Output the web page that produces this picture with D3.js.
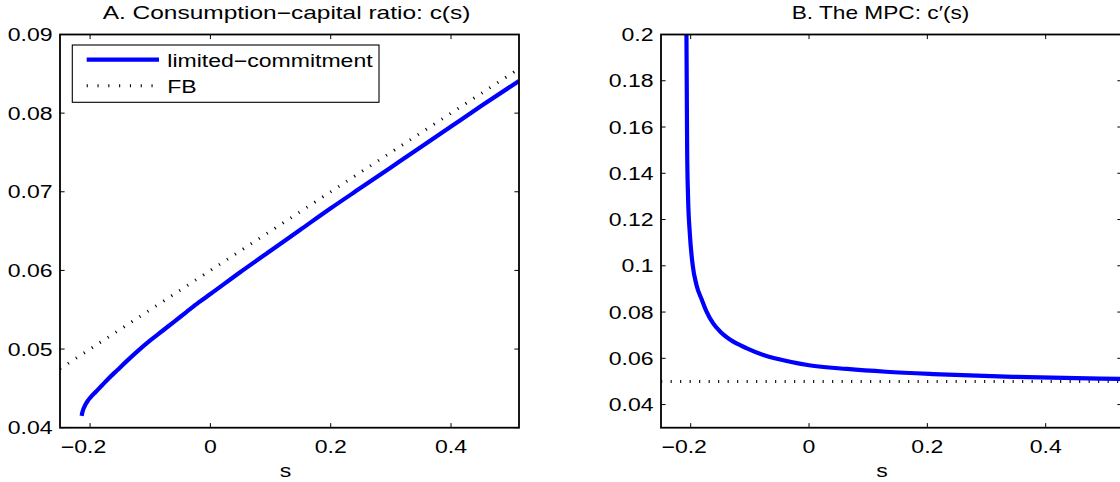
<!DOCTYPE html>
<html><head><meta charset="utf-8">
<script src="https://cdn.jsdelivr.net/npm/d3@7"></script>
<style>body{margin:0;background:#fff}svg{display:block}</style>
</head><body>
<svg id="c" width="1120" height="482"></svg>
<script>
// ---- data ----
const titleA = "A. Consumption\u2212capital ratio: c(s)";
const titleB = "B. The MPC: c\u2032(s)";
const xLabel = "s";
const legendLabels = ["limited\u2212commitment", "FB"];
// Panel A: c(s)
const sA = [-0.214,-0.213,-0.211,-0.208,-0.204,-0.2,-0.19,-0.18,-0.17,-0.155,-0.14,-0.12,-0.1,-0.08,-0.06,-0.04,-0.02,0,0.05,0.1,0.15,0.2,0.25,0.3,0.35,0.4,0.45,0.513];
const cA = [0.0415,0.0419,0.0424,0.0429,0.0434,0.0438,0.0446,0.0454,0.0462,0.0473,0.0484,0.0498,0.0511,0.0523,0.0535,0.0547,0.0559,0.0570,0.0598,0.0625,0.0652,0.0679,0.0705,0.0731,0.0757,0.0783,0.0809,0.0841];
const sFB_A = [-0.25, 0.513];
const cFB_A = [0.0475, 0.08565];
// Panel B: c'(s)
const sB = [-0.2072,-0.2066,-0.2060,-0.2045,-0.2015,-0.197,-0.19,-0.181,-0.173,-0.162,-0.150,-0.133,-0.105,-0.077,-0.032,0.0,0.064,0.13,0.21,0.345,0.4925,0.529];
const mB = [0.200,0.175,0.150,0.130,0.114,0.101,0.0915,0.0852,0.0801,0.0751,0.0715,0.0680,0.0643,0.0614,0.0585,0.0570,0.0554,0.0542,0.0532,0.0520,0.0512,0.0511];
const sFB_B = [-0.25, 0.529];
const mFB_B = [0.05, 0.05];
// ticks
const xTicks = [-0.2, 0, 0.2, 0.4];
const xTickLabels = ["\u22120.2", "0", "0.2", "0.4"];
const yTicksA = [0.04,0.05,0.06,0.07,0.08,0.09];
const yTickLabelsA = ["0.04","0.05","0.06","0.07","0.08","0.09"];
const yTicksB = [0.04,0.06,0.08,0.1,0.12,0.14,0.16,0.18,0.2];
const yTickLabelsB = ["0.04","0.06","0.08","0.1","0.12","0.14","0.16","0.18","0.2"];

// ---- drawing ----
const svg = d3.select("#c");
const FONT = "'Liberation Sans', Arial, Helvetica, sans-serif";
const FS = 18, SX = 1.28;
function txt(g, x, y, s, anchor, sx) {
  return g.append("g").attr("transform", `translate(${x},${y}) scale(${sx || SX},1)`)
   .append("text").attr("x",0).attr("y",0).attr("text-anchor", anchor)
   .attr("font-family", FONT).attr("font-size", FS).attr("fill","#000").text(s);
}

function panel(cfg) {
  const g = svg.append("g");
  const x = d3.scaleLinear().domain(cfg.xd).range([cfg.x0, cfg.x1]);
  const y = d3.scaleLinear().domain(cfg.yd).range([cfg.y1, cfg.y0]);
  const id = "clip" + cfg.id;
  svg.append("clipPath").attr("id", id).append("rect")
    .attr("x", cfg.x0).attr("y", cfg.y0).attr("width", cfg.x1-cfg.x0).attr("height", cfg.y1-cfg.y0);
  const line = d3.line().x(d => x(d[0])).y(d => y(d[1])).curve(d3.curveMonotoneX);
  const plot = g.append("g").attr("clip-path", `url(#${id})`);
  plot.append("path").datum(d3.zip(cfg.fbS, cfg.fbV)).attr("d", line)
    .attr("fill","none").attr("stroke","#000").attr("stroke-width",3).attr("stroke-dasharray","1.1 8.4");
  plot.append("path").datum(d3.zip(cfg.s, cfg.v)).attr("d", line)
    .attr("fill","none").attr("stroke","#0000ff").attr("stroke-width",4.2).attr("stroke-linejoin","round");

  const tl = 4.6;
  const axStyle = s => s.attr("stroke","#000").attr("stroke-width",1.8);
  xTicks.forEach((t,i) => {
    const px = x(t);
    g.append("line").attr("x1",px).attr("x2",px).attr("y1",cfg.y1).attr("y2",cfg.y1-tl).call(axStyle).attr("stroke-width",1);
    g.append("line").attr("x1",px).attr("x2",px).attr("y1",cfg.y0).attr("y2",cfg.y0+tl).call(axStyle).attr("stroke-width",1);
    const lab = xTickLabels[i];
    const dx = lab.startsWith("\u2212") ? -6.5 : 0;
    txt(g, px+dx, cfg.y1+24.8, lab, "middle");
  });
  cfg.yt.forEach((t,i) => {
    const py = y(t);
    g.append("line").attr("x1",cfg.x0).attr("x2",cfg.x0+tl).attr("y1",py).attr("y2",py).call(axStyle).attr("stroke-width",1);
    g.append("line").attr("x1",cfg.x1).attr("x2",cfg.x1-tl).attr("y1",py).attr("y2",py).call(axStyle).attr("stroke-width",1);
    txt(g, cfg.x0-7.5, py+6.5, cfg.ytl[i], "end");
  });
  g.append("rect").attr("x",cfg.x0).attr("y",cfg.y0).attr("width",cfg.x1-cfg.x0).attr("height",cfg.y1-cfg.y0)
    .attr("fill","none").call(axStyle);
  txt(g, cfg.titleX, 18.5, cfg.title, "middle", cfg.titleSX);
  txt(g, cfg.xlabX, 476.5, xLabel, "middle");
  return {g, x, y};
}

panel({id:"A", x0:60, x1:519, y0:34.5, y1:427.7, xd:[-0.25,0.513], yd:[0.04,0.09],
  s:sA, v:cA, fbS:sFB_A, fbV:cFB_A, yt:yTicksA, ytl:yTickLabelsA, title:titleA, titleX:286.5, titleSX:1.36, xlabX:285.5});
panel({id:"B", x0:661, x1:1122, y0:34.5, y1:427.7, xd:[-0.2502,0.529], yd:[0.03,0.2],
  s:sB, v:mB, fbS:sFB_B, fbV:mFB_B, yt:yTicksB, ytl:yTickLabelsB, title:titleB, titleX:880.5, titleSX:1.26, xlabX:882});

// legend (panel A)
const lg = svg.append("g");
lg.append("rect").attr("x",72.3).attr("y",45).attr("width",379-72.3).attr("height",102.3-45)
  .attr("fill","#fff").attr("stroke","#000").attr("stroke-width",1.1);
lg.append("line").attr("x1",86.7).attr("x2",159).attr("y1",59.7).attr("y2",59.7)
  .attr("stroke","#0000ff").attr("stroke-width",4.2);
lg.append("line").attr("x1",86.7).attr("x2",159).attr("y1",85.7).attr("y2",85.7)
  .attr("stroke","#000").attr("stroke-width",3).attr("stroke-dasharray","1.1 9.7");
txt(lg, 167.3, 66.8, legendLabels[0], "start");
txt(lg, 167.3, 92.8, legendLabels[1], "start");
</script>
</body></html>
